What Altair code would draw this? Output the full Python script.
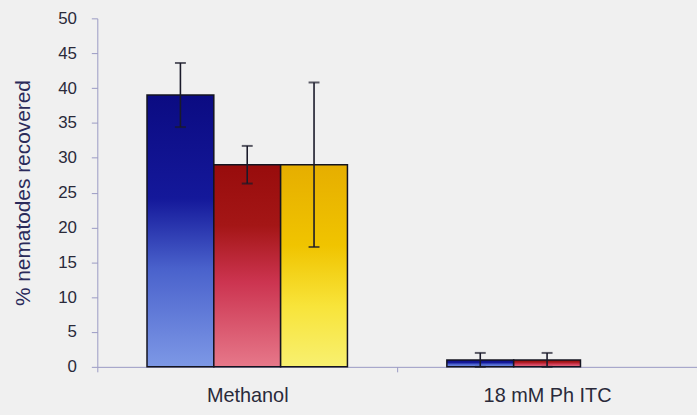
import altair as alt
import pandas as pd

groups = ["Methanol", "Methanol", "Methanol", "18 mM Ph ITC", "18 mM Ph ITC"]
series = ["A", "B", "C", "A", "B"]
values = [39.0, 29.0, 29.0, 1.0, 1.0]
errors = [4.6, 2.7, 11.8, 1.0, 1.0]

group_order = ["Methanol", "18 mM Ph ITC"]
series_order = ["A", "B", "C"]
y_ticks = [0, 5, 10, 15, 20, 25, 30, 35, 40, 45, 50]

df = pd.DataFrame({"group": groups, "series": series, "value": values, "err": errors})

gradients = {
    "A": [("#0b0b82", 0.0), ("#14189a", 0.38), ("#4a62cc", 0.64), ("#7d98e6", 1.0)],
    "B": [("#980c0c", 0.0), ("#a41616", 0.3), ("#cc3450", 0.58), ("#e6788a", 1.0)],
    "C": [("#e6ae00", 0.0), ("#f0c400", 0.4), ("#f8e43a", 0.7), ("#f8f070", 1.0)],
}

x_enc = alt.X(
    "group:N",
    sort=group_order,
    scale=alt.Scale(domain=group_order, paddingInner=0, paddingOuter=0),
    axis=alt.Axis(
        title=None,
        labelAngle=0,
        tickBand="extent",
        domainColor="#9a9ac4",
        tickColor="#9a9ac4",
        tickSize=5,
        labelFont="Liberation Sans",
        labelFontSize=20,
        labelColor="#2a2a3a",
        labelPadding=14,
    ),
)
xo_enc = alt.XOffset(
    "series:N",
    sort=series_order,
    scale=alt.Scale(domain=series_order, paddingInner=0, paddingOuter=0.744),
)
y_scale = alt.Scale(domain=[0, 50], nice=False)
y_axis = alt.Axis(
    title="% nematodes recovered",
    values=y_ticks,
    labelOverlap=False,
    grid=False,
    domainColor="#9a9ac4",
    tickColor="#9a9ac4",
    tickSize=6,
    labelFont="Liberation Sans",
    labelFontSize=17,
    labelColor="#2a2a3a",
    labelPadding=15,
    titleFont="Liberation Sans",
    titleFontSize=21,
    titleFontWeight="normal",
    titleColor="#2a2a5a",
    titlePadding=24,
)

base = alt.Chart(df)
layers = []
for s in series_order:
    grad = alt.Gradient(
        gradient="linear",
        x1=0, x2=0, y1=0, y2=1,
        stops=[alt.GradientStop(color=c, offset=o) for c, o in gradients[s]],
    )
    layers.append(
        base.transform_filter(alt.datum.series == s)
        .mark_bar(fill=grad, stroke="#141420", strokeWidth=1.5)
        .encode(x=x_enc, xOffset=xo_enc, y=alt.Y("value:Q", scale=y_scale, axis=y_axis))
    )

err_base = base.transform_calculate(
    lo="datum.value - datum.err", hi="datum.value + datum.err"
)
rule = err_base.mark_rule(color="#1a1a2a", strokeWidth=1.6).encode(
    x=x_enc, xOffset=xo_enc, y=alt.Y("lo:Q", scale=y_scale, axis=y_axis), y2="hi:Q"
)
cap_hi = err_base.mark_tick(color="#1a1a2a", thickness=2, size=11, orient="horizontal").encode(
    x=x_enc, xOffset=xo_enc, y=alt.Y("hi:Q", scale=y_scale, axis=y_axis)
)
cap_lo = err_base.mark_tick(color="#1a1a2a", thickness=2, size=11, orient="horizontal").encode(
    x=x_enc, xOffset=xo_enc, y=alt.Y("lo:Q", scale=y_scale, axis=y_axis)
)

chart = (
    alt.layer(*layers, rule, cap_hi, cap_lo)
    .properties(
        width=604,
        height=351,
        padding={"left": 98, "top": 17, "right": 0, "bottom": 47},
        autosize="none",
        background="#f0f0f0",
    )
    .configure_view(stroke=None)
)

chart.save("out.html", embed_options={"renderer": "svg", "actions": False})
